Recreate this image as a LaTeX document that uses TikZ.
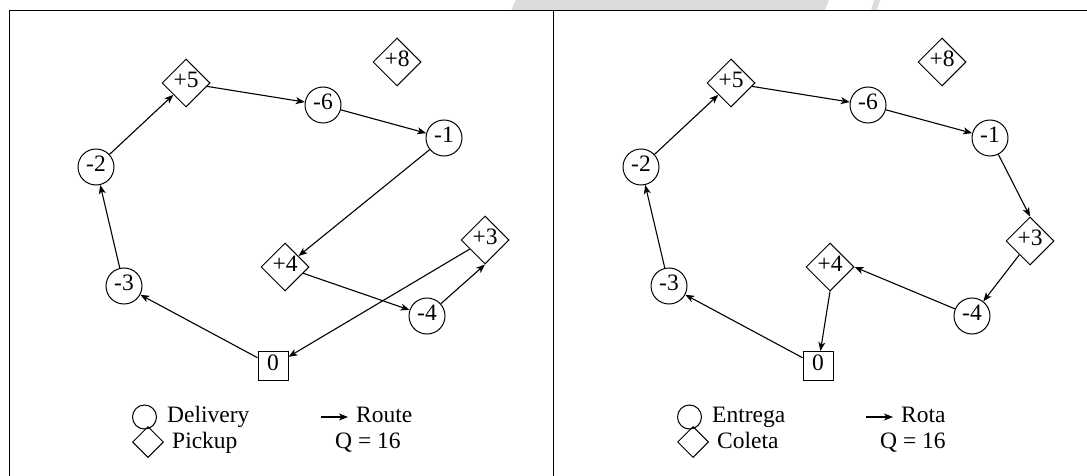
\documentclass[tikz,border=0pt]{standalone}
\usepackage{fontspec}
\setmainfont{Liberation Serif}
\usetikzlibrary{shapes.geometric,arrows.meta}
\tikzset{
  nodetext/.style={text height=16pt, text depth=6.2pt},
  del/.style={circle, draw, line width=1pt, minimum size=36pt, inner sep=0pt, nodetext},
  pick/.style={diamond, draw, line width=1pt, minimum size=48pt, inner sep=0pt, nodetext},
  depot/.style={rectangle, draw, line width=1pt, minimum width=30pt, minimum height=29pt, inner sep=0pt, nodetext},
  route/.style={-{Stealth[length=9pt,width=7pt,inset=2.5pt]}, line width=1.1pt},
  lbl/.style={anchor=base west, inner sep=0pt},
  legc/.style={circle, draw, line width=1pt, minimum size=24pt, inner sep=0pt},
  legd/.style={diamond, draw, line width=1pt, minimum size=31pt, inner sep=0pt},
  frame/.style={line width=1pt},
}
\definecolor{bandgrey}{HTML}{DCDCDC}
\begin{document}
\begin{tikzpicture}[x=1pt,y=-1pt,font=\fontsize{23.5}{28}\selectfont]
\useasboundingbox (0,0) rectangle (1087,476);
% grey band at top
\fill[bandgrey] (516,0) -- (829,0) -- (825,10.5) -- (511,10.5) -- cycle;
\fill[bandgrey] (874,0) -- (880,0) -- (877,10.5) -- (871,10.5) -- cycle;
% frame
\draw[frame] (9,476) -- (9,11) -- (1087,11);
\draw[frame] (553.5,11) -- (553.5,476);

% ---------- left panel ----------
\node[pick]  (Lp8) at (397,62)  {+8};
\node[pick]  (Lp5) at (186,83)  {+5};
\node[del]   (Lm6) at (323,105) {-6};
\node[del]   (Lm1) at (444,138) {-1};
\node[del]   (Lm2) at (96,167)  {-2};
\node[pick]  (Lp4) at (285,267) {+4};
\node[pick]  (Lp3) at (485,240) {+3};
\node[del]   (Lm3) at (124,286) {-3};
\node[del]   (Lm4) at (427,316) {-4};
\node[depot] (L0)  at (273,366) {0};
\draw[route] (L0) -- (Lm3);
\draw[route] (Lm3) -- (Lm2);
\draw[route] (Lm2) -- (Lp5);
\draw[route] (Lp5) -- (Lm6);
\draw[route] (Lm6) -- (Lm1);
\draw[route] (Lm1) -- (Lp4);
\draw[route] (Lp4) -- (Lm4);
\draw[route] (Lm4) -- (Lp3.south);
\draw[route] (Lp3) -- (L0);
% legend
\node[legc] (Llc) at (144.5,417) {};
\node[lbl] (Lld1) at (167,422) {Delivery};
\node[legd] (Lld) at (148,442) {};
\node[lbl] (Lld2) at (172,448) {Pickup};
\coordinate (La1) at (321,417);
\coordinate (La2) at (348,417);
\draw[route] (La1) -- (La2);
\node[lbl] (Lrt) at (356,422) {Route};
\node[lbl] (Lq) at (335,448) {Q = 16};

% ---------- right panel ----------
\node[pick]  (Rp8) at (942,62)  {+8};
\node[pick]  (Rp5) at (731,83)  {+5};
\node[del]   (Rm6) at (868,105) {-6};
\node[del]   (Rm1) at (990,138) {-1};
\node[del]   (Rm2) at (641,167) {-2};
\node[pick]  (Rp4) at (830,267) {+4};
\node[pick]  (Rp3) at (1030,241) {+3};
\node[del]   (Rm3) at (669,286) {-3};
\node[del]   (Rm4) at (972,316) {-4};
\node[depot] (R0)  at (818,366) {0};
\draw[route] (R0) -- (Rm3);
\draw[route] (Rm3) -- (Rm2);
\draw[route] (Rm2) -- (Rp5);
\draw[route] (Rp5) -- (Rm6);
\draw[route] (Rm6) -- (Rm1);
\draw[route] (Rm1) -- (Rp3.north);
\draw[route] (Rp3) -- (Rm4);
\draw[route] (Rm4) -- (Rp4.east);
\draw[route] (Rp4.south) -- (R0);
% legend
\node[legc] (Rlc) at (689.5,417) {};
\node[lbl] (Rld1) at (712,422) {Entrega};
\node[legd] (Rld) at (693,442) {};
\node[lbl] (Rld2) at (717,448) {Coleta};
\coordinate (Ra1) at (866,417);
\coordinate (Ra2) at (893,417);
\draw[route] (Ra1) -- (Ra2);
\node[lbl] (Rrt) at (901,422) {Rota};
\node[lbl] (Rq) at (880,448) {Q = 16};
\end{tikzpicture}
\end{document}
